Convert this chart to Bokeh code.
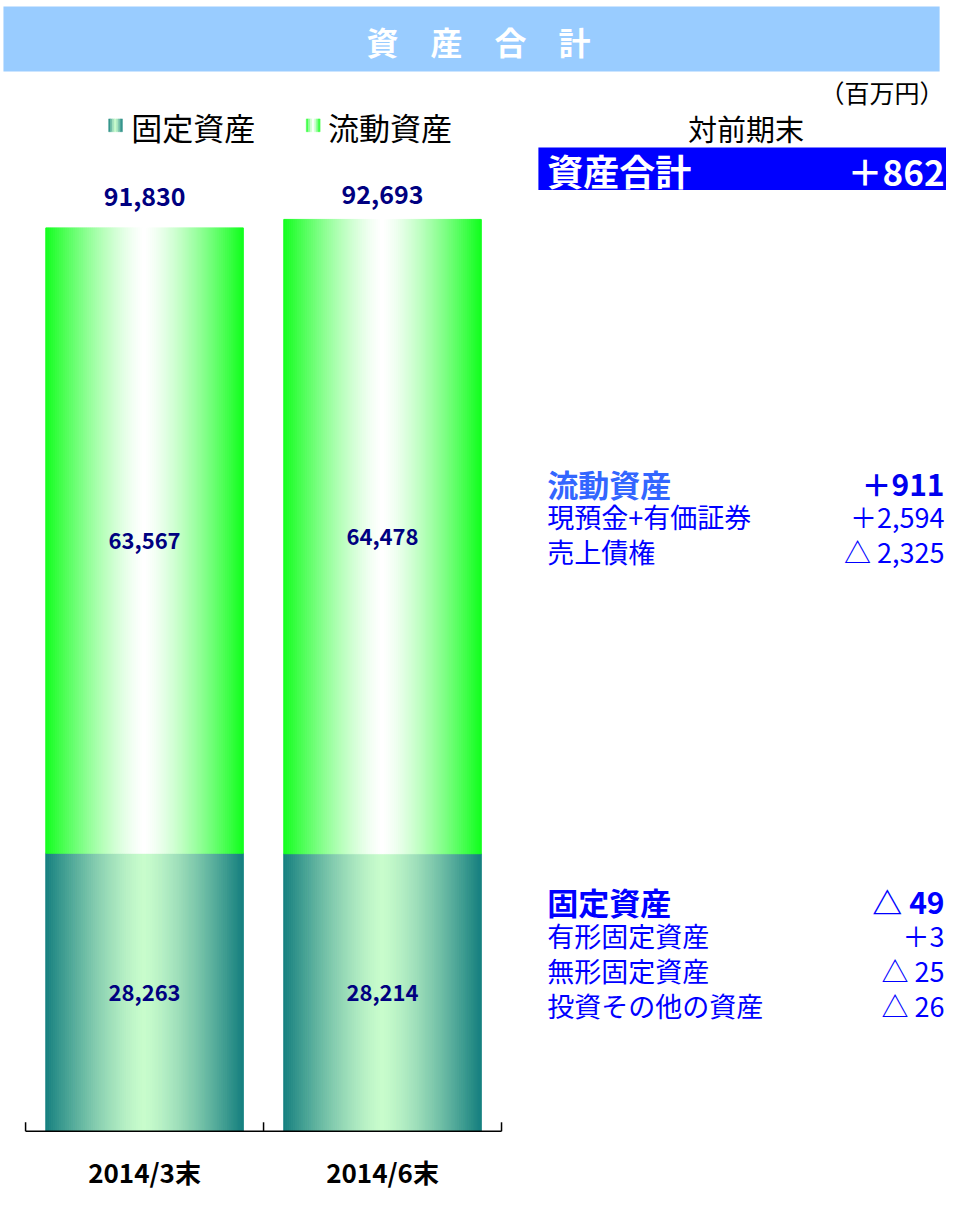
from bokeh.plotting import figure
from bokeh.models import Range1d, ColumnDataSource
from bokeh.embed import file_html
from bokeh.resources import INLINE
from bokeh.core.properties import value

# ---------------- data ----------------
categories = ["2014/3末", "2014/6末"]
fixed_assets = [28263, 28214]
current_assets = [63567, 64478]
totals = [91830, 92693]
fixed_labels = ["28,263", "28,214"]
current_labels = ["63,567", "64,478"]
total_labels = ["91,830", "92,693"]

legend_labels = ["固定資産", "流動資産"]
title_text = "資　産　合　計"
unit_text = "（百万円）"
compare_header = "対前期末"
total_item = ["資産合計", "＋862"]
current_head = ["流動資産", "＋911"]
current_items = ["現預金+有価証券", "売上債権"]
current_values = ["＋2,594", "△ 2,325"]
fixed_head = ["固定資産", "△ 49"]
fixed_items = ["有形固定資産", "無形固定資産", "投資その他の資産"]
fixed_values = ["＋3", "△ 25", "△ 26"]

# ---------------- layout ----------------
FONT = "Noto Sans CJK JP"
W, H = 946, 1189
SX = W / 962.0
SY = H / 1205.0


def cx(X):
    return X * SX


def cy(Y):
    return Y * SY


C0 = cx(146.5)
DX = cx(388.5) - cx(146.5)
BASE = cy(1146)
PXV = 0.00997 * SY  # canvas px per value unit


def RX(X):
    return (cx(X) - C0) / DX


def RY(Y):
    return (BASE - cy(Y)) / PXV


p = figure(width=W, height=H, x_range=Range1d((0 - C0) / DX, (W - C0) / DX),
           y_range=Range1d((BASE - H) / PXV, BASE / PXV),
           x_axis_location=None, y_axis_location=None,
           toolbar_location=None, output_backend="svg", min_border=0,
           outline_line_color=None, background_fill_color="white",
           border_fill_color="white")
p.grid.grid_line_color = None


def hexc(c):
    return "#%02x%02x%02x" % tuple(int(round(v)) for v in c)


def grad(edge, center, t):
    s = 1 - abs(2 * t - 1) ** 1.35
    return hexc([e + (c - e) * s for e, c in zip(edge, center)])


FIX_EDGE, FIX_CEN = (21, 127, 127), (200, 252, 204)
CUR_EDGE, CUR_CEN = (17, 255, 29), (255, 255, 255)


def gradient_quads(lefts, rights, bottoms, tops, edge, center, n, lw=1.0):
    L, R, B, T, C = [], [], [], [], []
    for l, r, b, t in zip(lefts, rights, bottoms, tops):
        w = (r - l) / n
        for k in range(n):
            L.append(l + k * w)
            R.append(l + (k + 1) * w)
            B.append(b)
            T.append(t)
            C.append(grad(edge, center, (k + 0.5) / n))
    src = ColumnDataSource(dict(left=L, right=R, bottom=B, top=T, color=C))
    p.quad(left="left", right="right", bottom="bottom", top="top",
           fill_color="color", line_color="color", line_width=lw, source=src)


# title bar
p.quad(left=[RX(3)], right=[RX(955)], bottom=[RY(72)], top=[RY(6)],
       fill_color="#99CCFF", line_color=None)


def txt(xs, ys, texts, size, color, align="left", bold=False):
    p.text(x=xs, y=ys, text=texts, text_font=value(FONT),
           text_font_size=value(size), text_color=color, text_align=align,
           text_baseline="middle", text_font_style="bold" if bold else "normal")


txt([RX(486)], [RY(41)], [title_text], "32px", "white", "center", True)

# bars (horizontal gradient drawn as thin strips)
BW = 0.83
xs = list(range(len(categories)))
n = 100
gradient_quads([x - BW / 2 for x in xs], [x + BW / 2 for x in xs],
               [0] * len(xs), fixed_assets, FIX_EDGE, FIX_CEN, n)
gradient_quads([x - BW / 2 for x in xs], [x + BW / 2 for x in xs],
               fixed_assets, [f + c for f, c in zip(fixed_assets, current_assets)],
               CUR_EDGE, CUR_CEN, n)

# bar labels
txt(xs, [f / 2 for f in fixed_assets], fixed_labels, "22px", "#000080", "center", True)
txt(xs, [f + c / 2 for f, c in zip(fixed_assets, current_assets)], current_labels,
    "22px", "#000080", "center", True)
txt(xs, [RY(199), RY(197)], total_labels, "25px", "#000080", "center", True)

# axis
nb = len(categories)
p.segment(x0=[-0.5], y0=[0], x1=[nb - 0.5], y1=[0], line_color="black", line_width=1.5)
tick = 9 / PXV
p.segment(x0=[j - 0.5 for j in range(nb + 1)], y0=[0] * (nb + 1),
          x1=[j - 0.5 for j in range(nb + 1)], y1=[tick] * (nb + 1),
          line_color="black", line_width=1.5)
txt(xs, [RY(1187)] * nb, categories, "26px", "black", "center", True)

# legend
gradient_quads([RX(110)], [RX(124)], [RY(133)], [RY(120)], FIX_EDGE, FIX_CEN, 7, 0.5)
gradient_quads([RX(311)], [RX(325)], [RY(133)], [RY(120)], CUR_EDGE, CUR_CEN, 7, 0.5)
txt([RX(133), RX(333)], [RY(128), RY(128)], legend_labels, "31px", "black")

# right panel
LX, RXP = RX(556), RX(960)
txt([RXP], [RY(93)], [unit_text], "25px", "black", "right")
txt([RX(758)], [RY(129)], [compare_header], "29px", "black", "center")
p.quad(left=[RX(547)], right=[RX(962)], bottom=[RY(192)], top=[RY(149)],
       fill_color="#0000FF", line_color=None)
txt([LX], [RY(172)], [total_item[0]], "36px", "white", "left", True)
txt([RXP], [RY(172)], [total_item[1]], "35px", "white", "right", True)

txt([LX], [RY(489)], [current_head[0]], "31px", "#3366FF", "left", True)
txt([RXP], [RY(489)], [current_head[1]], "30px", "#0000EE", "right", True)
cur_y = [RY(523), RY(558)]
txt([LX] * 2, cur_y, current_items, "27px", "#0000FF")
txt([RXP] * 2, cur_y, current_values, "27px", "#0000FF", "right")

txt([LX], [RY(913)], [fixed_head[0]], "31px", "#0000FF", "left", True)
txt([RXP], [RY(913)], [fixed_head[1]], "30px", "#0000FF", "right", True)
fix_y = [RY(948), RY(983), RY(1019)]
txt([LX] * 3, fix_y, fixed_items, "27px", "#0000FF")
txt([RXP] * 3, fix_y, fixed_values, "27px", "#0000FF", "right")

open("out.html", "w").write(file_html(p, INLINE))
